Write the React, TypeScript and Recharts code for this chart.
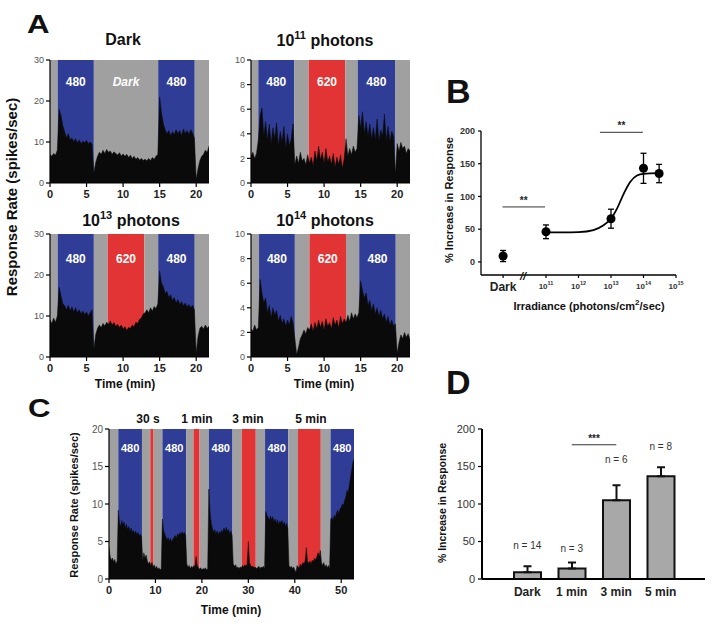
import React from 'react';
import {
  ComposedChart, Area, XAxis, YAxis, ReferenceArea, ReferenceLine, ReferenceDot,
  Line, Scatter, ErrorBar, BarChart, Bar,
} from 'recharts';

const FONT = '"Liberation Sans", Arial, Helvetica, sans-serif';
const COLORS: Record<string, string> = { b: '#2f3d97', r: '#e23434', g: '#a0a0a0' };
const TRACE = '#0a0a0a';

// ---------- Panel A / C : firing-rate traces (one value every 0.25 min) ----------
const STEP_MIN = 0.25;
const aXMax = 21.75;
const aXTicks = [0, 5, 10, 15, 20];

type Band = [number, number, string, string];

const darkBands: Band[] = [[0, 1.05, 'g', ''], [1.05, 6.0, 'b', '480'], [6.0, 14.8, 'g', 'Dark'], [14.8, 19.8, 'b', '480'], [19.8, 21.75, 'g', '']];
const p11Bands: Band[] = [[0, 1.0, 'g', ''], [1.0, 5.9, 'b', '480'], [5.9, 7.9, 'g', ''], [7.9, 12.9, 'r', '620'], [12.9, 14.6, 'g', ''], [14.6, 19.7, 'b', '480'], [19.7, 21.75, 'g', '']];
const p13Bands: Band[] = [[0, 1.05, 'g', ''], [1.05, 6.0, 'b', '480'], [6.0, 7.9, 'g', ''], [7.9, 12.9, 'r', '620'], [12.9, 14.8, 'g', ''], [14.8, 19.8, 'b', '480'], [19.8, 21.75, 'g', '']];
const p14Bands: Band[] = [[0, 1.1, 'g', ''], [1.1, 6.0, 'b', '480'], [6.0, 8.0, 'g', ''], [8.0, 13.0, 'r', '620'], [13.0, 14.8, 'g', ''], [14.8, 19.8, 'b', '480'], [19.8, 21.75, 'g', '']];

const darkTrace = [
  7, 6.5, 7.2, 6.8, 8, 18, 16.5, 14, 12.5, 11, 12, 10.5, 11, 10, 10.8, 9.8,
  10.5, 9.6, 10.2, 9.8, 10.4, 9.6, 10, 9.5, 2.5, 5, 6.5, 7.5, 7, 8, 7.2, 8.2,
  7.5, 7.8, 7, 7.6, 7.2, 6.8, 7.4, 6.6, 7.1, 6.5, 7, 6.2, 6.8, 6, 6.5, 5.8,
  6.2, 5.6, 6, 5.5, 5.8, 5.4, 6, 5.5, 6.2, 5.8, 6.5, 7, 21, 17, 14.5, 13,
  12, 12.8, 11.5, 12.5, 11.8, 13, 12, 12.8, 11.5, 13.2, 12, 12.8, 11.8, 13, 12.2, 11,
  1, 3.5, 5.5, 6.5, 7, 8, 7.5, 9,
];
const p11Trace = [
  2.2, 2.5, 2, 2.4, 3.5, 5.5, 6.1, 3.8, 5, 3.5, 4.8, 3.2, 4.5, 3.6, 4.9, 3,
  4.2, 3.3, 4.6, 2.8, 4, 3, 3.6, 4.8, 1.5, 2.2, 1.6, 2.5, 1.8, 2, 1.5, 2.3,
  1.6, 2.1, 1.4, 2.6, 1.8, 3, 1.9, 2.5, 1.6, 2.8, 1.7, 2.2, 1.5, 2.4, 1.3, 2.1,
  1.5, 2.3, 1.2, 2, 3.6, 2.2, 2.8, 2.3, 3, 2.5, 2.8, 5.5, 4.5, 5.8, 4, 5,
  3.8, 4.8, 3.6, 4.5, 3.5, 5.2, 3.4, 4.3, 3.8, 5.6, 3.5, 4.6, 3.4, 4.2, 3.8, 0.8,
  3.2, 2.6, 3.3, 2.8, 3, 2.4, 2.8, 2.6,
];
const p13Trace = [
  9, 8.2, 9.5, 8.5, 10, 17, 15, 13, 12.5, 11.5, 12.6, 11.2, 12.2, 11, 12, 10.8,
  11.5, 10.5, 11.2, 10.3, 11, 10, 10.8, 11.5, 2, 5.5, 7, 7.8, 7.2, 8.2, 7.6, 8.5,
  8, 8.8, 7.8, 8.4, 7.5, 8, 7.2, 7.8, 6.8, 7.4, 6.5, 7.2, 7, 7.8, 7.4, 8.5,
  8.2, 9.2, 9.5, 10.5, 10.8, 11.5, 10.8, 12, 11.2, 12.3, 11.8, 13, 21, 18, 17.2, 15.5,
  16, 14.5, 15.2, 13.8, 14.5, 13.2, 14, 12.8, 13.5, 12.5, 13.2, 12.2, 12.8, 12, 12.6, 11.5,
  1, 5, 7, 7.5, 6.8, 7.8, 7, 7.5,
];
const p14Trace = [
  2.3, 2.1, 2.6, 2.2, 2.4, 6.3, 5.2, 4.4, 4.8, 3.6, 4.2, 3.2, 4, 3.4, 3.8, 2.9,
  3.4, 2.7, 3.1, 2.5, 3, 2.6, 3.3, 2.8, 1.5, 0.2, 0.8, 1.5, 1.8, 2.2, 1.9, 2.4,
  2.2, 2.7, 2.1, 2.8, 2.3, 3, 2.4, 2.9, 2.2, 3.1, 2.5, 2.8, 2.3, 3.2, 2.6, 3,
  2.4, 3.3, 2.7, 3.1, 2.8, 3.4, 2.9, 3.6, 3.1, 3.5, 3.2, 3.6, 6.2, 5.4, 4.8, 5.2,
  4.2, 4.6, 3.8, 4.3, 3.5, 4, 3.3, 3.8, 3.1, 3.5, 2.8, 3.3, 2.6, 3, 2.5, 2.7,
  0.3, 1.2, 1.8, 1.5, 2, 1.6, 1.9, 1.4,
];

const cXMax = 52.75;
const cXTicks = [0, 10, 20, 30, 40, 50];
const cBands: Band[] = [
  [0, 2.0, 'g', ''], [2.0, 7.1, 'b', '480'], [7.1, 8.9, 'g', ''], [8.9, 9.6, 'r', ''], [9.6, 11.5, 'g', ''],
  [11.5, 16.6, 'b', '480'], [16.6, 18.2, 'g', ''], [18.2, 19.5, 'r', ''], [19.5, 21.5, 'g', ''],
  [21.5, 26.6, 'b', '480'], [26.6, 28.6, 'g', ''], [28.6, 31.6, 'r', ''], [31.6, 33.6, 'g', ''],
  [33.6, 38.6, 'b', '480'], [38.6, 40.7, 'g', ''], [40.7, 45.6, 'r', ''], [45.6, 47.7, 'g', ''],
  [47.7, 52.75, 'b', '480'],
];
const cTrace = [
  4.2, 3, 2.5, 2.8, 2.3, 2.6, 2, 2.4, 9.2, 7.5, 7, 7.8, 7.2, 7.6, 6.8, 7.3,
  6.6, 7, 6.3, 6.8, 6.2, 6.5, 6, 6.4, 5.9, 6.2, 5.7, 6, 5.6, 2.5, 3.5, 2.8,
  3.2, 2.4, 2, 2.3, 1.8, 2.2, 1.6, 1.9, 1.4, 1.7, 1.3, 1.5, 1.2, 1.4, 8, 6.5,
  6, 5.6, 5.2, 5.5, 5, 5.4, 4.9, 5.3, 5.5, 5.8, 5.4, 6, 5.8, 6.2, 5.9, 6.3,
  6, 6.2, 5.8, 2, 1.6, 1.8, 1.4, 1.7, 1.5, 1.8, 1.6, 3, 1.8, 1.5, 1.3, 1.5,
  1.2, 1.4, 1.3, 1.5, 1.2, 1.4, 12, 9, 7.5, 6.8, 6.2, 6.6, 6, 6.4, 5.9, 6.3,
  6.1, 6.5, 6.2, 6.8, 6.4, 6.9, 6.3, 6.6, 6, 6.4, 5.8, 2, 1.7, 1.9, 1.5, 1.6,
  1.4, 1.6, 1.5, 1.8, 1.6, 1.9, 1.7, 2, 5, 2.2, 1.8, 1.6, 1.7, 1.5, 1.6, 1.4,
  1.5, 1.7, 1.4, 1.6, 1.5, 1.7, 1.4, 9, 8.5, 8.2, 7.8, 8.4, 7.9, 8.3, 7.6, 8,
  7.4, 7.9, 7.2, 7.7, 7.5, 7.8, 7.2, 7.6, 7, 7.4, 6.8, 1.8, 1.5, 1.7, 1.4, 1.6,
  1.2, 0.9, 1.8, 1.5, 1.6, 2, 1.7, 2.2, 2, 2.5, 4.2, 2.3, 2.1, 2.4, 2, 2.5,
  2.3, 2.8, 2.5, 3, 3.5, 3, 3.8, 2.2, 1.8, 2.2, 1.6, 1.9, 1.5, 1.8, 1.4, 8,
  8.2, 7.8, 8.5, 8.2, 8.8, 9.2, 8.6, 9.4, 9.5, 10, 9.8, 10.5, 11, 11.8, 11.5, 12.5,
  13.5, 14.5, 15.5, 16,
];

// ---------- Panel B : irradiance response ----------
const irrTicks = [9.68, 11, 12, 13, 14, 15];
const irrTickLabels = ['Dark', '11', '12', '13', '14', '15'];
const irrX = [9.68, 11, 13, 14, 14.48];
const irrMean = [9, 46, 66, 143, 135];
const irrSem = [8.5, 10.5, 14.5, 23, 14];
const fitX = [11, 11.5, 12, 12.46, 12.77, 13.0, 13.18, 13.39, 13.59, 13.8, 14.0, 14.48];
const fitY = [45, 45, 45.5, 48.7, 56, 66, 81, 104, 122, 132, 134.5, 135.5];
const irrSig = [
  { x1: 9.66, x2: 10.97, y: 84, text: '**' },
  { x1: 12.66, x2: 13.98, y: 198, text: '**' },
];

// ---------- Panel D : duration bars ----------
const dCats = ['Dark', '1 min', '3 min', '5 min'];
const dMean = [9, 14, 105, 137];
const dSem = [8, 8, 20, 12];
const dN = ['n = 14', 'n = 3', 'n = 6', 'n = 8'];
const dNLabelY = [45, 41, 160, 177];
const dSig = { from: '1 min', to: '3 min', y: 179, text: '***' };

type Plot = { x0: number; y0: number; x1: number; y1: number };

const bandLabel = (text: string, italic: boolean, offset: number, size: number) => (p: any) => {
  const vb = p.viewBox || {};
  return (
    <text x={vb.x + vb.width / 2} y={vb.y + offset} textAnchor="middle" dominantBaseline="central"
      fill="#fff" fontWeight="bold" fontStyle={italic ? 'italic' : 'normal'} fontSize={size} fontFamily={FONT}>
      {text}
    </text>
  );
};

function TracePanel(props: {
  plot: Plot; trace: number[]; bands: Band[]; yMax: number; yTicks: number[]; xMax: number; xTicks: number[];
  labelOffset: number; labelSize: number; xTickFont: number; yTickFont: number;
}) {
  const { plot } = props;
  const yw = 36, xh = 24, pad = 6;
  const data = props.trace.map((v, i) => ({ t: i * STEP_MIN, v }));
  const left = plot.x0 - yw - pad, top = plot.y0 - pad;
  const width = plot.x1 - plot.x0 + yw + 2 * pad;
  const height = plot.y1 - plot.y0 + xh + 2 * pad;
  return (
    <div style={{ position: 'absolute', left, top }}>
      <ComposedChart width={width} height={height} data={data} margin={{ top: pad, left: pad, right: pad, bottom: pad }}>
        <XAxis type="number" dataKey="t" domain={[0, props.xMax]} ticks={props.xTicks} height={xh} interval={0}
          tickSize={4} tickMargin={3} allowDataOverflow
          axisLine={{ stroke: '#000', strokeWidth: 1.2 }} tickLine={{ stroke: '#000', strokeWidth: 1.2 }}
          tick={{ fontSize: props.xTickFont, fontWeight: 'bold', fill: '#222', fontFamily: FONT }} />
        <YAxis type="number" domain={[0, props.yMax]} ticks={props.yTicks} width={yw} interval={0}
          tickSize={4} tickMargin={2} allowDataOverflow
          axisLine={{ stroke: '#000', strokeWidth: 1.2 }} tickLine={{ stroke: '#000', strokeWidth: 1.2 }}
          tick={{ fontSize: props.yTickFont, fill: '#555', fontFamily: FONT }} />
        {props.bands.map(([x1, x2, c, lab], i) => (
          <ReferenceArea key={i} x1={x1} x2={x2} y1={0} y2={props.yMax} fill={COLORS[c]} fillOpacity={1}
            stroke="none" ifOverflow="hidden"
            label={lab ? bandLabel(lab, lab === 'Dark', props.labelOffset, props.labelSize) : undefined} />
        ))}
        <Area type="linear" dataKey="v" stroke={TRACE} strokeWidth={0.5} fill={TRACE} fillOpacity={1}
          isAnimationActive={false} dot={false} activeDot={false} />
      </ComposedChart>
    </div>
  );
}

const IrrTick = (p: any) => {
  const lab = irrTickLabels[p.index];
  if (lab === 'Dark') {
    return <text x={p.x} y={p.y + 11} textAnchor="middle" fontSize={12} fontWeight="bold" fill="#222" fontFamily={FONT}>Dark</text>;
  }
  return (
    <text x={p.x} y={p.y + 9} textAnchor="middle" fontSize={8} fontWeight="bold" fill="#333" fontFamily={FONT}>
      10<tspan fontSize={5.5} dy={-4}>{lab}</tspan>
    </text>
  );
};

const starLabel = (text: string, size: number) => (p: any) => {
  const vb = p.viewBox || {};
  return (
    <text x={vb.x + (vb.width || 0) / 2} y={vb.y - 3} textAnchor="middle" fontSize={size} fontWeight="bold" fill="#222" fontFamily={FONT}>{text}</text>
  );
};

function IrradiancePanel() {
  const plot: Plot = { x0: 481, y0: 131, x1: 676, y1: 275 };
  const yw = 34, xh = 26, pad = 8, padTop = 20;
  const left = plot.x0 - yw - pad, top = plot.y0 - padTop;
  const width = plot.x1 - plot.x0 + yw + 2 * pad;
  const height = plot.y1 - plot.y0 + xh + pad + padTop;
  const pts = irrX.map((x, i) => ({ x, y: irrMean[i], e: irrSem[i] }));
  const fit = fitX.map((x, i) => ({ x, y: fitY[i] }));
  return (
    <div style={{ position: 'absolute', left, top }}>
      <ComposedChart width={width} height={height} margin={{ top: padTop, left: pad, right: pad, bottom: pad }}>
        <XAxis type="number" dataKey="x" domain={[9, 15]} ticks={irrTicks} interval={0} height={xh}
          tickSize={3} tickMargin={2} allowDataOverflow
          axisLine={{ stroke: '#000', strokeWidth: 1.3 }} tickLine={{ stroke: '#000', strokeWidth: 1.2 }}
          tick={(p: any) => <IrrTick {...p} />} />
        <YAxis type="number" dataKey="y" domain={[-20, 200]} ticks={[0, 50, 100, 150, 200]} width={yw} interval={0}
          tickSize={3} tickMargin={3} allowDataOverflow
          axisLine={{ stroke: '#000', strokeWidth: 1.3 }} tickLine={{ stroke: '#000', strokeWidth: 1.2 }}
          tick={{ fontSize: 9, fontWeight: 'bold', fill: '#333', fontFamily: FONT }} />
        <Line data={fit} dataKey="y" type="monotone" stroke="#000" strokeWidth={1.8} dot={false} activeDot={false}
          isAnimationActive={false} />
        <Scatter data={pts} dataKey="y" fill="#000" isAnimationActive={false}>
          <ErrorBar dataKey="e" direction="y" width={3} stroke="#000" strokeWidth={1.3} />
        </Scatter>
        {irrSig.map((s, i) => (
          <ReferenceLine key={i} segment={[{ x: s.x1, y: s.y }, { x: s.x2, y: s.y }]} stroke="#333" strokeWidth={1}
            ifOverflow="visible" label={starLabel(s.text, 10)} />
        ))}
      </ComposedChart>
    </div>
  );
}

function DurationPanel() {
  const plot: Plot = { x0: 482, y0: 429, x1: 705, y1: 579 };
  const yw = 40, xh = 24, pad = 6;
  const left = plot.x0 - yw - pad, top = plot.y0 - pad;
  const width = plot.x1 - plot.x0 + yw + 2 * pad;
  const height = plot.y1 - plot.y0 + xh + 2 * pad;
  const data = dCats.map((cat, i) => ({ cat, v: dMean[i], err: [0, dSem[i]] }));
  return (
    <div style={{ position: 'absolute', left, top }}>
      <BarChart width={width} height={height} data={data} margin={{ top: pad, left: pad, right: pad, bottom: pad }}>
        <XAxis dataKey="cat" padding={{ left: 23, right: 22 }} height={xh} tickLine={false} tickSize={4} tickMargin={4}
          axisLine={{ stroke: '#000', strokeWidth: 2 }} interval={0}
          tick={{ fontSize: 12, fontWeight: 'bold', fill: '#222', fontFamily: FONT }} />
        <YAxis type="number" domain={[0, 200]} ticks={[0, 50, 100, 150, 200]} width={yw} interval={0}
          tickSize={4} tickMargin={3}
          axisLine={{ stroke: '#000', strokeWidth: 2 }} tickLine={{ stroke: '#000', strokeWidth: 1.2 }}
          tick={{ fontSize: 11, fill: '#333', fontFamily: FONT }} />
        <Bar dataKey="v" fill="#a8a8a8" stroke="#111" strokeWidth={2} barSize={27} isAnimationActive={false}>
          <ErrorBar dataKey="err" direction="y" width={4} stroke="#111" strokeWidth={2} />
        </Bar>
        <ReferenceLine segment={[{ x: dSig.from, y: dSig.y }, { x: dSig.to, y: dSig.y }]} stroke="#333" strokeWidth={1}
          label={starLabel(dSig.text, 10)} />
        {dCats.map((c, i) => (
          <ReferenceDot key={c} x={c} y={dNLabelY[i]} r={0} fill="none" stroke="none"
            label={(p: any) => {
              const vb = p.viewBox || {};
              return <text x={vb.x + (vb.width || 0) / 2} y={vb.y + (vb.height || 0) / 2} textAnchor="middle"
                dominantBaseline="central" fontSize={10} fill="#333" fontFamily={FONT}>{dN[i]}</text>;
            }} />
        ))}
      </BarChart>
    </div>
  );
}

export default function App() {
  const T = { fontFamily: FONT, fontWeight: 'bold' as const, fill: '#111' };
  return (
    <div style={{ position: 'absolute', left: 0, top: 0, width: 715, height: 626, background: '#fff', overflow: 'hidden' }}>
      <TracePanel plot={{ x0: 50, y0: 60, x1: 209, y1: 183 }} trace={darkTrace} bands={darkBands} yMax={30}
        yTicks={[0, 10, 20, 30]} xMax={aXMax} xTicks={aXTicks} labelOffset={22} labelSize={12} xTickFont={11} yTickFont={9} />
      <TracePanel plot={{ x0: 251, y0: 60, x1: 410, y1: 183 }} trace={p11Trace} bands={p11Bands} yMax={10}
        yTicks={[0, 2, 4, 6, 8, 10]} xMax={aXMax} xTicks={aXTicks} labelOffset={22} labelSize={12} xTickFont={11} yTickFont={9} />
      <TracePanel plot={{ x0: 50, y0: 234, x1: 209, y1: 357 }} trace={p13Trace} bands={p13Bands} yMax={30}
        yTicks={[0, 10, 20, 30]} xMax={aXMax} xTicks={aXTicks} labelOffset={25} labelSize={12} xTickFont={11} yTickFont={9} />
      <TracePanel plot={{ x0: 251, y0: 234, x1: 410, y1: 357 }} trace={p14Trace} bands={p14Bands} yMax={10}
        yTicks={[0, 2, 4, 6, 8, 10]} xMax={aXMax} xTicks={aXTicks} labelOffset={25} labelSize={12} xTickFont={11} yTickFont={9} />
      <TracePanel plot={{ x0: 109, y0: 429, x1: 354, y1: 579 }} trace={cTrace} bands={cBands} yMax={20}
        yTicks={[0, 5, 10, 15, 20]} xMax={cXMax} xTicks={cXTicks} labelOffset={19} labelSize={11} xTickFont={11} yTickFont={10} />
      <IrradiancePanel />
      <DurationPanel />
      <svg width={715} height={626} style={{ position: 'absolute', left: 0, top: 0, pointerEvents: 'none' }}>
        <text {...T} fontSize={26} transform="translate(27,33) scale(1.2,1)">A</text>
        <text {...T} fontSize={34} x={446} y={103}>B</text>
        <text {...T} fontSize={26} transform="translate(28,417) scale(1.2,1)">C</text>
        <text {...T} fontSize={34} x={446} y={394}>D</text>

        <text {...T} fontSize={16} x={123} y={45} textAnchor="middle">Dark</text>
        <text {...T} fontSize={16} x={325} y={46} textAnchor="middle">10<tspan fontSize={11} dy={-7}>11</tspan><tspan dy={7}> photons</tspan></text>
        <text {...T} fontSize={16} x={131} y={226} textAnchor="middle">10<tspan fontSize={11} dy={-7}>13</tspan><tspan dy={7}> photons</tspan></text>
        <text {...T} fontSize={16} x={325} y={226} textAnchor="middle">10<tspan fontSize={11} dy={-7}>14</tspan><tspan dy={7}> photons</tspan></text>
        <text {...T} fontSize={15} textAnchor="middle" transform="translate(17,197) rotate(-90)">Response Rate (spikes/sec)</text>
        <text {...T} fontSize={12} x={125} y={388} textAnchor="middle">Time (min)</text>
        <text {...T} fontSize={12} x={324} y={388} textAnchor="middle">Time (min)</text>

        <text {...T} fontSize={11} textAnchor="middle" transform="translate(453,200) rotate(-90)">% Increase in Response</text>
        <text {...T} fontSize={11} x={589} y={310} textAnchor="middle">Irradiance (photons/cm<tspan fontSize={8} dy={-5}>2</tspan><tspan dy={5}>/sec)</tspan></text>
        <text {...T} fontSize={11} fontStyle="italic" x={523} y={280} textAnchor="middle">//</text>

        <text {...T} fontSize={12} x={148} y={423} textAnchor="middle">30 s</text>
        <text {...T} fontSize={12} x={197} y={423} textAnchor="middle">1 min</text>
        <text {...T} fontSize={12} x={248} y={423} textAnchor="middle">3 min</text>
        <text {...T} fontSize={12} x={311} y={423} textAnchor="middle">5 min</text>
        <text {...T} fontSize={11} textAnchor="middle" transform="translate(78,505) rotate(-90)">Response Rate (spikes/sec)</text>
        <text {...T} fontSize={12} x={231} y={614} textAnchor="middle">Time (min)</text>

        <text {...T} fontSize={10.5} textAnchor="middle" transform="translate(446,503) rotate(-90)">% Increase in Response</text>
      </svg>
    </div>
  );
}
